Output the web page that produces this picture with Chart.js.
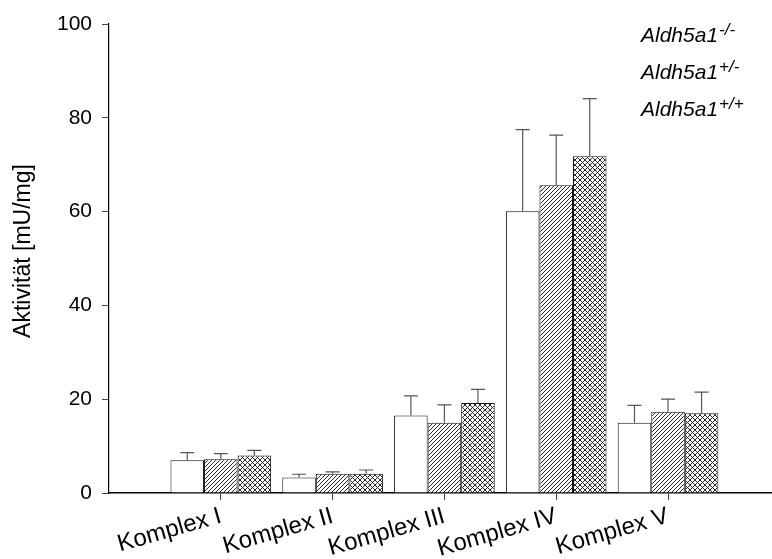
<!DOCTYPE html>
<html>
<head>
<meta charset="utf-8">
<script src="https://cdn.jsdelivr.net/npm/chart.js@4.4.1/dist/chart.umd.min.js"></script>
<style>
  body { margin: 0; background: #fff; }
  #wrap { width: 772px; height: 559px; }
</style>
</head>
<body>
<div id="wrap"><canvas id="chart-1"></canvas></div>
<script>
const categories = ['Komplex I', 'Komplex II', 'Komplex III', 'Komplex IV', 'Komplex V'];
const seriesBase = ['Aldh5a1', 'Aldh5a1', 'Aldh5a1'];
const seriesSup = ['-/-', '+/-', '+/+'];
const knockout = [7.0, 3.3, 16.5, 60.1, 15.0];
const hetero = [7.2, 4.1, 15.0, 65.6, 17.3];
const wildtype = [8.0, 4.1, 19.2, 71.8, 17.0];
const knockoutErr = [1.6, 0.7, 4.2, 17.4, 3.7];
const heteroErr = [1.2, 0.4, 3.8, 10.7, 2.7];
const wildtypeErr = [1.1, 0.8, 2.9, 12.3, 4.5];
const yTicks = [0, 20, 40, 60, 80, 100];
const yTitle = 'Aktivität [mU/mg]';

const FONT = '"Liberation Sans", Arial, sans-serif';

function makePattern(kind) {
  const s = kind === 'diag' ? 4 : 5;
  const c = document.createElement('canvas');
  c.width = s; c.height = s;
  const g = c.getContext('2d');
  g.fillStyle = '#fff';
  g.fillRect(0, 0, s, s);
  g.strokeStyle = '#111';
  g.lineWidth = 0.9;
  g.beginPath();
  g.moveTo(-1, s + 1); g.lineTo(s + 1, -1);
  if (kind === 'cross') {
    g.moveTo(-1, -1); g.lineTo(s + 1, s + 1);
  }
  g.stroke();
  return g.createPattern(c, 'repeat');
}

const toPoints = (arr) => arr.map((v, i) => ({ x: i + 1, y: v }));

// upward-only error bars with a cap
const errorBars = {
  id: 'errorBars',
  afterDatasetsDraw(chart) {
    const ctx = chart.ctx;
    const yScale = chart.scales.y;
    ctx.save();
    ctx.strokeStyle = '#555';
    ctx.lineWidth = 1.2;
    chart.data.datasets.forEach((ds, di) => {
      const meta = chart.getDatasetMeta(di);
      meta.data.forEach((bar, i) => {
        const top = yScale.getPixelForValue(ds.data[i].y + ds.errors[i]);
        ctx.beginPath();
        ctx.moveTo(bar.x, bar.y);
        ctx.lineTo(bar.x, top);
        ctx.moveTo(bar.x - 7, top);
        ctx.lineTo(bar.x + 7, top);
        ctx.stroke();
      });
    });
    ctx.restore();
  }
};

// legend text only (with genotype superscripts) and the y title
const textBits = {
  id: 'textBits',
  afterDraw(chart) {
    const ctx = chart.ctx;
    ctx.save();
    ctx.fillStyle = '#000';
    ctx.textBaseline = 'alphabetic';
    seriesBase.forEach((name, i) => {
      const y = 42 + i * 37;
      ctx.font = 'italic 21px ' + FONT;
      ctx.fillText(name, 641, y);
      const w = ctx.measureText(name).width;
      ctx.font = 'italic 17px ' + FONT;
      ctx.fillText(seriesSup[i], 641 + w + 1, y - 7);
    });
    ctx.translate(24, 251);
    ctx.rotate(-Math.PI / 2);
    ctx.font = '23px ' + FONT;
    ctx.textAlign = 'center';
    ctx.textBaseline = 'middle';
    ctx.fillText(yTitle, 0, 0);
    ctx.restore();
  }
};

new Chart(document.getElementById('chart-1'), {
  type: 'bar',
  data: {
    datasets: [{
      label: seriesBase[0] + seriesSup[0],
      data: toPoints(knockout),
      errors: knockoutErr,
      backgroundColor: '#fff'
    }, {
      label: seriesBase[1] + seriesSup[1],
      data: toPoints(hetero),
      errors: heteroErr,
      backgroundColor: makePattern('diag')
    }, {
      label: seriesBase[2] + seriesSup[2],
      data: toPoints(wildtype),
      errors: wildtypeErr,
      backgroundColor: makePattern('cross')
    }]
  },
  options: {
    responsive: true,
    maintainAspectRatio: false,
    animation: false,
    layout: { padding: { top: 24, right: 0, left: 0, bottom: 0 } },
    datasets: {
      bar: { categoryPercentage: 0.9, barPercentage: 1.0, borderWidth: 1, borderColor: '#111' }
    },
    plugins: {
      legend: { display: false },
      tooltip: { enabled: false }
    },
    scales: {
      x: {
        type: 'linear',
        offset: false,
        min: 0,
        max: 5.93,
        afterBuildTicks(scale) {
          scale.ticks = categories.map((c, i) => ({ value: i + 1 }));
        },
        afterFit(scale) { scale.height = 66; },
        ticks: {
          minRotation: 16,
          maxRotation: 16,
          color: '#000',
          padding: 2,
          font: { family: FONT, size: 24 },
          callback: (v) => categories[v - 1]
        },
        grid: { offset: false, drawOnChartArea: false, drawTicks: true, tickLength: 7, color: '#444' },
        border: { color: '#000', width: 1.6 }
      },
      y: {
        min: yTicks[0],
        max: yTicks[yTicks.length - 1],
        afterBuildTicks(scale) {
          scale.ticks = yTicks.map((v) => ({ value: v }));
        },
        afterFit(scale) { scale.width = 109; },
        ticks: {
          color: '#000',
          padding: 10,
          font: { family: FONT, size: 21 }
        },
        grid: { drawOnChartArea: false, drawTicks: true, tickLength: 7, color: '#444' },
        border: { color: '#000', width: 1.2 }
      }
    }
  },
  plugins: [errorBars, textBits]
});
</script>
</body>
</html>
